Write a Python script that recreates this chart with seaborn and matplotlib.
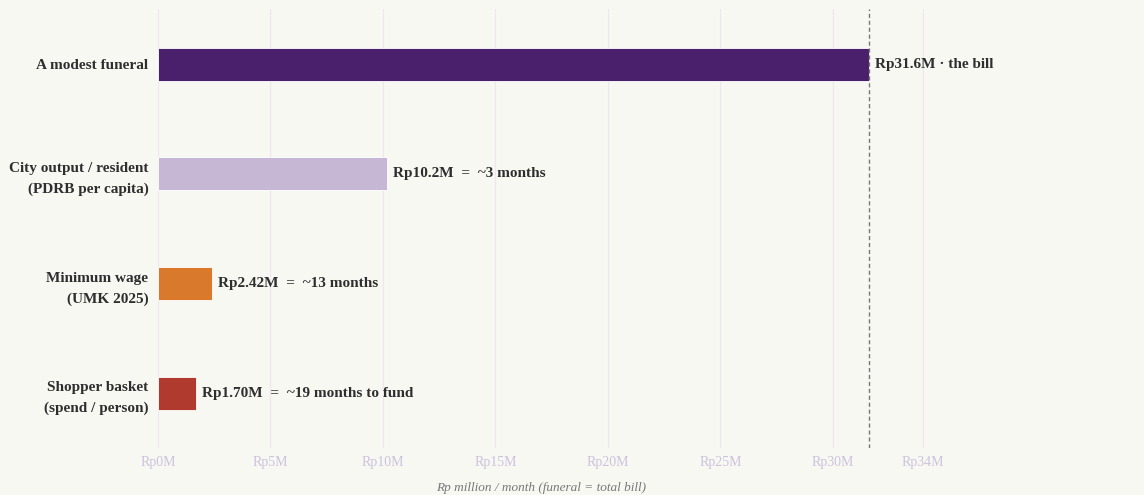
import matplotlib
matplotlib.use("Agg")
import matplotlib.pyplot as plt
import seaborn as sns
import pandas as pd

# values (Rp million)
categories = [
    "A modest funeral",
    "City output / resident\n(PDRB per capita)",
    "Minimum wage\n(UMK 2025)",
    "Shopper basket\n(spend / person)",
]
values = [31.6, 10.2, 2.42, 1.70]
bar_labels = [
    "Rp31.6M · the bill",
    "Rp10.2M  =  ~3 months",
    "Rp2.42M  =  ~13 months",
    "Rp1.70M  =  ~19 months to fund",
]
colors = ["#4a1f6b", "#c6b7d4", "#d9792c", "#b03a2e"]
tick_vals = [0, 5, 10, 15, 20, 25, 30, 34]
tick_labels = ["Rp0M", "Rp5M", "Rp10M", "Rp15M", "Rp20M", "Rp25M", "Rp30M", "Rp34M"]
bill = 31.6

BG = "#f8f8f3"


def main():
    sns.set_theme(style="white")
    plt.rcParams["font.family"] = ["Liberation Serif", "DejaVu Serif"]

    df = pd.DataFrame({"cat": categories, "val": values})

    fig = plt.figure(figsize=(11.44, 4.95), dpi=100)
    fig.patch.set_facecolor(BG)
    ax = fig.add_axes([0.1381, 0.095, 0.6695, 0.886])
    ax.set_facecolor(BG)

    sns.barplot(data=df, x="val", y="cat", hue="cat", palette=colors,
                orient="h", width=0.3, legend=False, ax=ax, saturation=1,
                edgecolor="#ffffff", linewidth=0.6, zorder=3)

    ax.set_xlim(0, 34.04)
    ax.set_ylim(3.5, -0.5)
    ax.set_xticks(tick_vals)
    ax.set_xticklabels(tick_labels, color="#cbc2dd", fontsize=10)
    ax.tick_params(axis="x", length=0, pad=6)
    ax.tick_params(axis="y", length=0, pad=7)
    ax.set_yticks(range(len(categories)))
    ax.set_yticklabels(categories, fontsize=11, fontweight="bold",
                       color="#2e2e2e", linespacing=1.7)

    ax.grid(axis="x", color="#ece6ee", linewidth=0.9, zorder=0)
    ax.grid(axis="y", visible=False)
    for s in ax.spines.values():
        s.set_visible(False)

    ax.axvline(bill, color="#777777", linestyle=(0, (3, 2)), linewidth=1.0, zorder=4)

    for i, (v, lab) in enumerate(zip(values, bar_labels)):
        ax.annotate(lab, xy=(v, i), xytext=(4, 0), textcoords="offset points",
                    va="center", ha="left", fontsize=11, fontweight="bold",
                    color="#2e2e2e", zorder=5, annotation_clip=False)

    ax.set_ylabel("")
    ax.set_xlabel("Rp million / month (funeral = total bill)", fontsize=9.5,
                  style="italic", color="#777777", labelpad=9)

    fig.savefig("out.png", dpi=100, facecolor=BG)
    plt.close(fig)


if __name__ == "__main__":
    main()
